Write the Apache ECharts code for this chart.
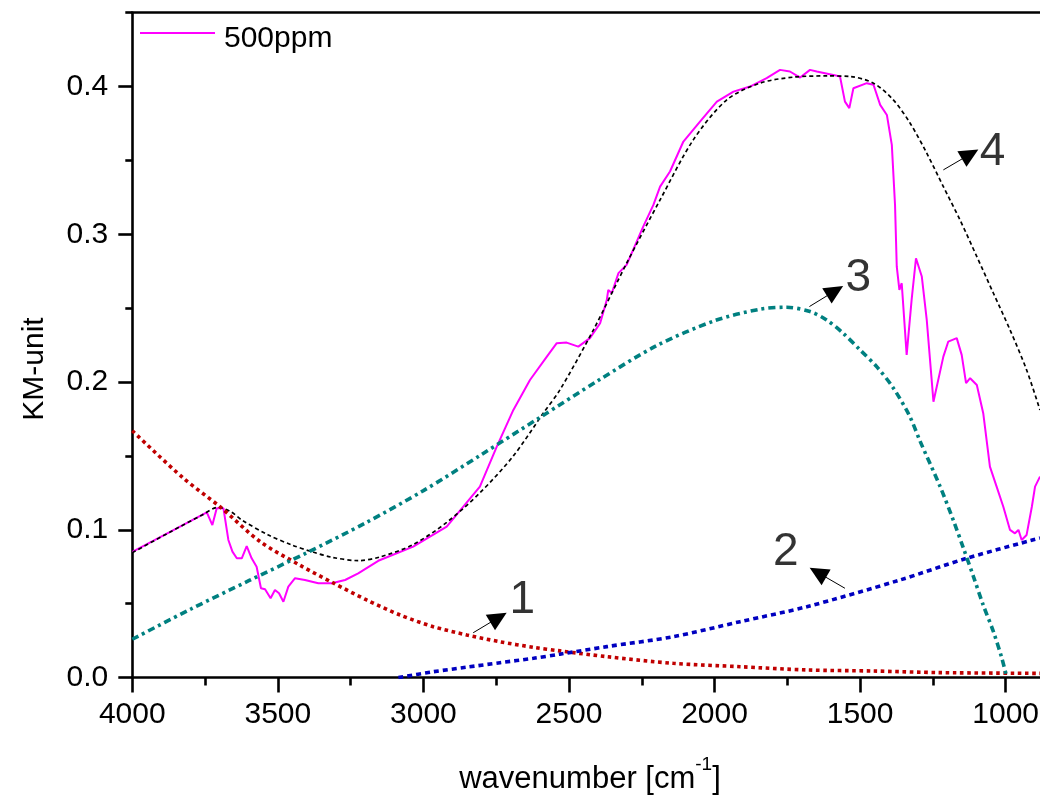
<!DOCTYPE html>
<html>
<head>
<meta charset="utf-8">
<script src="https://cdn.jsdelivr.net/npm/echarts@6/dist/echarts.min.js"></script>
<style>
html,body{margin:0;padding:0;background:#fff;}
#chart{width:1040px;height:798px;}
</style>
</head>
<body>
<div id="chart"></div>
<script>
// ---- data (wavenumber in cm^-1, KM units) ----
const specW = [4000,3870,3744,3725,3710,3687,3670,3656,3641,3624,3607,3590,3573,3558,3544,3525,3510,3496,3481,3464,3441,3407,3361,3315,3269,3224,3155,3035,2920,2863,2806,2748,2691,2634,2576,2542,2508,2468,2428,2393,2370,2365,2353,2330,2302,2245,2210,2187,2153,2107,2050,1992,1935,1878,1821,1775,1741,1706,1672,1649,1592,1569,1552,1537,1523,1477,1454,1431,1408,1391,1380,1374,1365,1357,1340,1323,1308,1288,1271,1248,1214,1197,1168,1151,1136,1122,1099,1077,1054,1031,1008,985,968,956,945,928,910,899,882];
const specV = [0.085,0.0985,0.1118,0.1032,0.1146,0.1146,0.0931,0.0852,0.0807,0.0807,0.0890,0.0807,0.0750,0.0604,0.0597,0.0536,0.0592,0.0570,0.0513,0.0615,0.0672,0.0660,0.0638,0.0638,0.0660,0.0705,0.0790,0.0886,0.1021,0.1156,0.1292,0.1563,0.1811,0.2014,0.2172,0.2263,0.2267,0.2240,0.2297,0.2398,0.2556,0.2624,0.2601,0.2737,0.2793,0.3052,0.3199,0.3323,0.3425,0.3628,0.3763,0.3898,0.3966,0.4000,0.4057,0.4113,0.4102,0.4061,0.4113,0.4102,0.4079,0.4068,0.3898,0.3854,0.3989,0.4023,0.4012,0.3876,0.3808,0.3605,0.3199,0.2781,0.2624,0.2669,0.2184,0.2556,0.2838,0.2714,0.2420,0.1867,0.2172,0.2274,0.2297,0.2184,0.1992,0.2026,0.1980,0.1789,0.1427,0.1292,0.1156,0.0999,0.0976,0.0999,0.0931,0.0965,0.1156,0.1292,0.1360];

const fitW = [4000,3870,3760,3705,3660,3624,3533,3452,3384,3315,3224,3149,3035,2920,2806,2691,2588,2531,2416,2302,2187,2073,1958,1844,1729,1615,1535,1454,1386,1328,1271,1214,1157,1099,1042,985,928,882];
const fitV = [0.0845,0.0985,0.1100,0.1152,0.1120,0.1066,0.0965,0.0897,0.0852,0.0814,0.0791,0.0816,0.0900,0.1050,0.1250,0.1500,0.1790,0.1947,0.2353,0.2804,0.3233,0.3639,0.3910,0.4023,0.4064,0.4072,0.4068,0.4023,0.3910,0.3752,0.3549,0.3323,0.3098,0.2849,0.2601,0.2353,0.2082,0.1810];

const c1W = [4000,3825,3699,3561,3424,3310,3195,3080,2966,2851,2737,2622,2531,2370,2142,1912,1683,1454,1225,882];
const c1V = [0.167,0.135,0.1156,0.092,0.076,0.064,0.0525,0.0423,0.0344,0.0288,0.0242,0.0204,0.0180,0.0141,0.0096,0.0073,0.0051,0.0044,0.0033,0.0028];

const c2W = [3086,2966,2851,2737,2622,2531,2370,2142,1912,1683,1363,1134,882];
const c2V = [0,0.0039,0.0070,0.0100,0.0130,0.0158,0.0209,0.0276,0.0378,0.0479,0.0660,0.0807,0.0944];

const c3W = [4000,3800,3600,3400,3200,3000,2800,2600,2400,2200,2000,1844,1752,1672,1615,1558,1500,1443,1386,1330,1294,1225,1180,1145,1110,1077,1042,1013,996];
const c3V = [0.0259,0.0462,0.0655,0.0845,0.1045,0.1265,0.1510,0.1760,0.2010,0.2245,0.2415,0.2493,0.2506,0.2477,0.2420,0.2330,0.2217,0.2104,0.1960,0.1770,0.1600,0.1292,0.1066,0.0875,0.0680,0.0490,0.0310,0.0130,0.0];

// annotation arrows (tail -> head) and labels
const arrowTailW = [2829,1552,1674,1214];
const arrowTailV = [0.0303,0.0604,0.2511,0.3436];
const arrowHeadW = [2742,1645,1586,1122];
const arrowHeadV = [0.0406,0.0710,0.2617,0.3542];
const labelW = [2660,1755,1506,1045];
const labelV = [0.0523,0.0846,0.2703,0.3557];
const labelText = ['1','2','3','4'];

// ticks
const xTicks = [4000,3500,3000,2500,2000,1500,1000];
const xMinorTicks = [3750,3250,2750,2250,1750,1250];
const yTicks = [0,0.1,0.2,0.3,0.4];
const yMinorTicks = [0.05,0.15,0.25,0.35,0.45];

const seriesName = '500ppm';
const xTitle = 'wavenumber [cm';
const xTitleSup = '-1';
const yTitle = 'KM-unit';

// ---- chart ----
const FONT = '"Liberation Sans", Arial, sans-serif';
const zip = (a, b) => a.map((v, i) => [v, b[i]]);
const chart = echarts.init(document.getElementById('chart'), null, {renderer: 'canvas'});

const gridRect = {left: 132.3, top: 12.7, width: 907.7, height: 664.8, containLabel: false, outerBoundsMode: 'none'};
const AX = 2.6;

const option = {
  animation: false,
  backgroundColor: '#ffffff',
  grid: [Object.assign({}, gridRect), Object.assign({}, gridRect)],
  legend: {
    data: [{name: seriesName, icon: 'rect'}],
    left: 140, top: 12, padding: 0,
    itemWidth: 75, itemHeight: 2,
    formatter: n => '{t|' + n + '}',
    textStyle: {fontSize: 30, fontFamily: FONT, color: '#000',
                rich: {t: {fontSize: 30, fontFamily: FONT, color: '#000', lineHeight: 30, padding: [12, 0, 0, 4]}}},
    selectedMode: false
  },
  xAxis: [
    {gridIndex: 0, type: 'value', min: 882, max: 4000, inverse: true, position: 'bottom',
     axisLine: {show: true, onZero: false, lineStyle: {color: '#000', width: AX}},
     axisTick: {show: true, customValues: xTicks, length: 15, lineStyle: {color: '#000', width: AX}},
     axisLabel: {show: true, customValues: xTicks, fontSize: 30, fontFamily: FONT, color: '#000', margin: 22,
                 formatter: v => String(Math.round(v))},
     splitLine: {show: false}},
    {gridIndex: 0, type: 'value', min: 882, max: 4000, inverse: true, position: 'top',
     axisLine: {show: true, onZero: false, lineStyle: {color: '#000', width: AX}},
     axisTick: {show: false}, axisLabel: {show: false}, splitLine: {show: false}},
    {gridIndex: 1, type: 'value', min: 882, max: 4000, inverse: true, position: 'bottom',
     axisLine: {show: false, onZero: false},
     axisTick: {show: true, customValues: xMinorTicks, length: 8, lineStyle: {color: '#000', width: AX}},
     axisLabel: {show: false}, splitLine: {show: false}}
  ],
  yAxis: [
    {gridIndex: 0, type: 'value', min: 0, max: 0.45, position: 'left',
     axisLine: {show: true, onZero: false, lineStyle: {color: '#000', width: AX}},
     axisTick: {show: true, customValues: yTicks, length: 14, lineStyle: {color: '#000', width: AX}},
     axisLabel: {show: true, customValues: yTicks, fontSize: 30, fontFamily: FONT, color: '#000', margin: 24,
                 formatter: v => Number(v).toFixed(1)},
     splitLine: {show: false}},
    {gridIndex: 1, type: 'value', min: 0, max: 0.45, position: 'left',
     axisLine: {show: false, onZero: false},
     axisTick: {show: true, customValues: yMinorTicks, length: 7, lineStyle: {color: '#000', width: AX}},
     axisLabel: {show: false}, splitLine: {show: false}}
  ],
  graphic: [
    {type: 'text', x: 35, y: 369, rotation: Math.PI / 2, silent: true,
     style: {text: yTitle, fontSize: 30, fontFamily: FONT, fill: '#000', align: 'center', verticalAlign: 'middle'}},
    {type: 'text', x: 590, y: 775, silent: true,
     style: {text: '{a|' + xTitle + '}{s|' + xTitleSup + '}{a|]}', align: 'center', verticalAlign: 'middle',
             rich: {a: {fontSize: 31, fontFamily: FONT, fill: '#000', color: '#000', lineHeight: 40, verticalAlign: 'bottom'},
                    s: {fontSize: 19, fontFamily: FONT, fill: '#000', color: '#000', lineHeight: 19, verticalAlign: 'top'}}}}
  ],
  series: [
    {name: seriesName, type: 'line', xAxisIndex: 0, yAxisIndex: 0, data: zip(specW, specV),
     symbol: 'none', lineStyle: {color: '#FF00FF', width: 2}, itemStyle: {color: '#FF00FF'}, z: 2, silent: true},
    {name: 'fit', type: 'line', xAxisIndex: 0, yAxisIndex: 0, data: zip(fitW, fitV), smooth: 0.3,
     symbol: 'none', lineStyle: {color: '#000000', width: 1.7, type: [4, 3]}, z: 3, silent: true},
    {name: 'comp1', type: 'line', xAxisIndex: 0, yAxisIndex: 0, data: zip(c1W, c1V), smooth: 0.3,
     symbol: 'none', lineStyle: {color: '#C00000', width: 3.6, type: [3.6, 3.6]}, z: 4, silent: true},
    {name: 'comp2', type: 'line', xAxisIndex: 0, yAxisIndex: 0, data: zip(c2W, c2V), smooth: 0.3,
     symbol: 'none', lineStyle: {color: '#0000C0', width: 3.6, type: [5, 4]}, z: 4, silent: true},
    {name: 'comp3', type: 'line', xAxisIndex: 0, yAxisIndex: 0, data: zip(c3W, c3V), smooth: 0.3,
     symbol: 'none', lineStyle: {color: '#008080', width: 3.6, type: [7, 4, 3, 4]}, z: 4, silent: true},
    {name: 'labels', type: 'scatter', xAxisIndex: 0, yAxisIndex: 0,
     data: labelW.map((w, i) => [w, labelV[i], labelText[i]]),
     symbolSize: 1, itemStyle: {color: 'rgba(0,0,0,0)'}, z: 6, silent: true,
     label: {show: true, position: 'inside', formatter: p => p.data[2], fontSize: 46, fontFamily: FONT, color: '#000'},
     markLine: {
       silent: true, animation: false,
       symbol: ['none', 'triangle'], symbolSize: [18, 19],
       label: {show: false},
       lineStyle: {color: '#000', width: 1, type: 'solid'},
       itemStyle: {color: '#000'},
       emphasis: {disabled: true},
       data: arrowTailW.map((w, i) => [
         {coord: [w, arrowTailV[i]], symbol: 'none'},
         {coord: [arrowHeadW[i], arrowHeadV[i]], symbol: 'triangle', itemStyle: {color: '#000'}}
       ])
     }}
  ]
};
chart.setOption(option);
</script>
</body>
</html>
